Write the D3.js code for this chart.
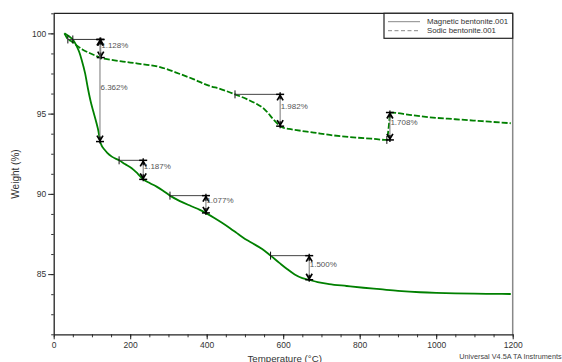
<!DOCTYPE html>
<html>
<head>
<meta charset="utf-8">
<script src="https://cdn.jsdelivr.net/npm/d3@7"></script>
<style>
  html, body { margin: 0; padding: 0; background: #fff; }
  svg { display: block; font-family: "Liberation Sans", Arial, sans-serif; }
</style>
</head>
<body>
<svg id="chart" width="562" height="362"></svg>
<script>
// Thermogravimetric curves: temperature (°C) vs remaining weight (%)
const magneticT = [28, 40, 50, 60, 67, 73, 82, 90, 97, 104, 112, 117, 121, 126, 132, 140, 152, 171, 186, 204, 220, 234, 252, 269, 286, 304, 330, 360, 382, 398, 420, 440, 461, 478, 492, 505, 520, 545, 567, 590, 610, 630, 650, 668, 690, 720, 766, 810, 853, 900, 958, 1000, 1050, 1100, 1150, 1195];
const magneticW = [100.0, 99.82, 99.62, 99.2, 98.82, 98.36, 97.52, 96.5, 95.72, 95.1, 94.4, 93.9, 93.3, 92.98, 92.78, 92.56, 92.32, 92.09, 91.86, 91.6, 91.25, 90.91, 90.66, 90.45, 90.2, 89.89, 89.55, 89.23, 89.0, 88.8, 88.5, 88.2, 87.86, 87.57, 87.33, 87.12, 86.92, 86.56, 86.15, 85.7, 85.32, 84.98, 84.75, 84.64, 84.5, 84.38, 84.26, 84.15, 84.06, 83.96, 83.87, 83.83, 83.8, 83.78, 83.77, 83.76];

const sodicT = [28, 37, 47, 60, 75, 95, 110, 125, 150, 181, 220, 278, 330, 365, 400, 440, 474, 505, 535, 550, 561, 572, 583, 592, 600, 615, 635, 680, 722, 783, 830, 871, 876, 880, 884, 930, 984, 1050, 1120, 1195];
const sodicW = [100.0, 99.64, 99.5, 99.25, 99.0, 98.76, 98.6, 98.46, 98.35, 98.24, 98.12, 97.9, 97.47, 97.15, 96.79, 96.5, 96.2, 95.9, 95.54, 95.3, 95.02, 94.7, 94.42, 94.22, 94.12, 94.05, 93.97, 93.82, 93.67, 93.52, 93.44, 93.36, 94.2, 95.05, 95.06, 94.92, 94.77, 94.65, 94.53, 94.4];

// Step-change annotations: start cursor (t0, w0), end temperature t1, measured step
const stepT0 = [37, 50, 171, 304, 567, 474, 871];
const stepW0 = [99.62, 99.62, 92.09, 89.89, 86.15, 96.2, 93.36];
const stepT1 = [123, 121, 234, 398, 668, 592, 879];
const stepDelta = [-1.128, -6.362, -1.187, -1.077, -1.500, -1.982, 1.708];

const xMajorTicks = [0, 200, 400, 600, 800, 1000, 1200];
const yMajorTicks = [85, 90, 95, 100];
const seriesNames = ["Magnetic bentonite.001", "Sodic bentonite.001"];

const svg = d3.select("#chart");
const x = d3.scaleLinear().domain([0, 1200]).range([53.7, 512.7]);
const y = d3.scaleLinear().domain([81.25, 101.25]).range([334.3, 13.3]);

const xMinor = d3.range(0, 1200.1, 50);
const yMinor = d3.range(81.25, 101.26, 1.25);

// frame: top and right edges
svg.append("line").attr("x1", x(0)).attr("x2", x(1200)).attr("y1", y(101.25)).attr("y2", y(101.25))
  .attr("stroke", "#222").attr("stroke-width", 1.2);
svg.append("line").attr("x1", x(1200)).attr("x2", x(1200)).attr("y1", y(101.25)).attr("y2", y(81.25))
  .attr("stroke", "#888").attr("stroke-width", 1.5);

// minor ticks
svg.append("g").attr("transform", `translate(0,${y(81.25)})`)
  .call(d3.axisBottom(x).tickValues(xMinor).tickSize(3).tickFormat(""))
  .call(g => g.select(".domain").remove())
  .selectAll("line").attr("stroke", "#333");
svg.append("g").attr("transform", `translate(${x(0)},0)`)
  .call(d3.axisLeft(y).tickValues(yMinor).tickSize(2.5).tickFormat(""))
  .call(g => g.select(".domain").remove())
  .selectAll("line").attr("stroke", "#333");

// major axes
const xAxis = svg.append("g").attr("transform", `translate(0,${y(81.25)})`)
  .call(d3.axisBottom(x).tickValues(xMajorTicks).tickSize(5).tickSizeOuter(0).tickPadding(3).tickFormat(d3.format("d")));
const yAxis = svg.append("g").attr("transform", `translate(${x(0)},0)`)
  .call(d3.axisLeft(y).tickValues(yMajorTicks).tickSize(5.5).tickSizeOuter(0).tickPadding(2).tickFormat(d3.format("d")));
[xAxis, yAxis].forEach(g => {
  g.select(".domain").attr("stroke", "#222").attr("stroke-width", 1.3);
  g.selectAll(".tick line").attr("stroke", "#222");
  g.selectAll("text").attr("font-size", 8.5).attr("fill", "#333").attr("font-family", "Liberation Sans, Arial, sans-serif");
});

// curves
const line = d3.line().x(d => x(d[0])).y(d => y(d[1])).curve(d3.curveMonotoneX);
const magnetic = magneticT.map((t, i) => [t, magneticW[i]]);
const sodic = sodicT.map((t, i) => [t, sodicW[i]]);

svg.append("path").datum(magnetic).attr("d", line)
  .attr("fill", "none").attr("stroke", "#008000").attr("stroke-width", 1.8);
svg.append("path").datum(sodic).attr("d", line)
  .attr("fill", "none").attr("stroke", "#008000").attr("stroke-width", 1.8)
  .attr("stroke-dasharray", "6,2");

// step annotations
const steps = stepT0.map((t0, i) => ({ t0, w0: stepW0[i], t1: stepT1[i], w1: stepW0[i] + stepDelta[i], delta: stepDelta[i] }));
const ann = svg.append("g");
steps.forEach(s => {
  const x0 = x(s.t0), x1 = x(s.t1), y0 = y(s.w0), y1 = y(s.w1);
  // horizontal reference line from the start cursor
  ann.append("line").attr("x1", x0).attr("x2", x1).attr("y1", y0).attr("y2", y0)
    .attr("stroke", "#444").attr("stroke-width", 1);
  ann.append("line").attr("x1", x0).attr("x2", x0).attr("y1", y0 - 4).attr("y2", y0 + 4)
    .attr("stroke", "#111").attr("stroke-width", 1);
  // vertical measurement line
  ann.append("line").attr("x1", x1).attr("x2", x1).attr("y1", y0).attr("y2", y1)
    .attr("stroke", "#777").attr("stroke-width", 1);
  // end bars and arrowheads pointing outward
  [[y0, y1], [y1, y0]].forEach(([yy, other]) => {
    const dir = other > yy ? 1 : -1; // direction into the line
    ann.append("line").attr("x1", x1 - 4).attr("x2", x1 + 4).attr("y1", yy).attr("y2", yy)
      .attr("stroke", "#000").attr("stroke-width", 1.5);
    ann.append("line").attr("x1", x1).attr("x2", x1).attr("y1", yy - dir * 2).attr("y2", yy + dir * 5)
      .attr("stroke", "#000").attr("stroke-width", 1.3);
    ann.append("path")
      .attr("d", `M${x1 - 3},${yy + dir * 6}L${x1},${yy + dir * 1}L${x1 + 3},${yy + dir * 6}`)
      .attr("fill", "none").attr("stroke", "#000").attr("stroke-width", 1.7);
  });
  ann.append("text").attr("x", x1 + 0.5).attr("y", (y0 + y1) / 2 - 3.5)
    .attr("dominant-baseline", "central").attr("font-size", 8).attr("fill", "#555")
    .text(Math.abs(s.delta).toFixed(3) + "%");
});

// legend
const lg = svg.append("g");
lg.append("rect").attr("x", 384).attr("y", y(101.25)).attr("width", x(1200) - 384).attr("height", 25)
  .attr("fill", "#fff").attr("stroke", "#222").attr("stroke-width", 1.2);
seriesNames.forEach((name, i) => {
  const ly = 21.7 + i * 9;
  lg.append("line").attr("x1", 388).attr("x2", 420).attr("y1", ly).attr("y2", ly)
    .attr("stroke", "#888").attr("stroke-width", 1)
    .attr("stroke-dasharray", i === 1 ? "4,2.5" : null);
  lg.append("text").attr("x", 427).attr("y", ly).attr("dominant-baseline", "central")
    .attr("font-size", 7.8).attr("fill", "#333").text(name);
});

// axis titles
svg.append("text").attr("transform", "translate(19,174) rotate(-90)")
  .attr("text-anchor", "middle").attr("font-size", 10).attr("fill", "#333").text("Weight (%)");
svg.append("text").attr("x", 284.7).attr("y", 361.5).attr("text-anchor", "middle")
  .attr("font-size", 9.7).attr("fill", "#333").text("Temperature (°C)");
svg.append("text").attr("x", 459.3).attr("y", 359).attr("font-size", 7.3).attr("fill", "#444")
  .text("Universal V4.5A TA Instruments");
</script>
</body>
</html>
